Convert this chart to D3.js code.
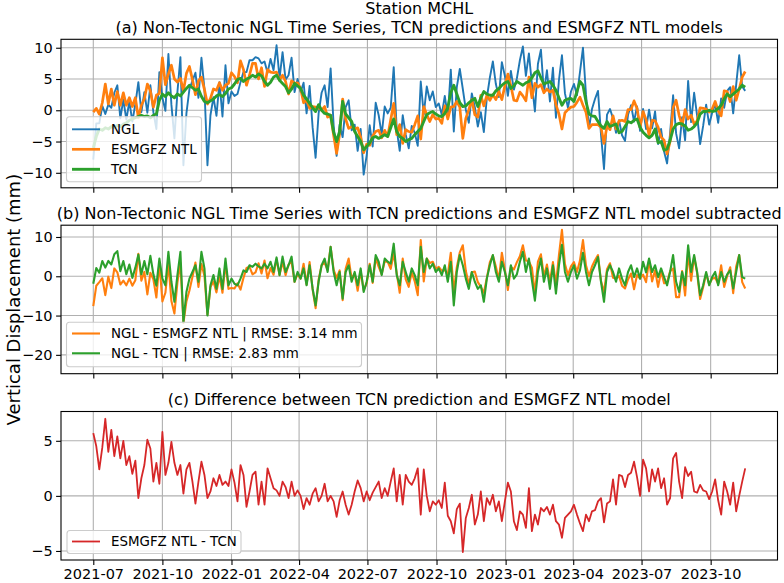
<!DOCTYPE html>
<html><head><meta charset="utf-8">
<script src="https://cdn.jsdelivr.net/npm/d3@7"></script>
<style>
body{margin:0;background:#fff}
svg{display:block}
text{font-family:"DejaVu Sans",sans-serif;fill:#000}
</style>
</head><body>
<svg id="chart" width="784" height="583"></svg>
<script>
// ---- data (sampled every 4 days from 2021-07-01) ----
const startDate = "2021-07-01";
const stepDays = 4;

// TCN prediction (mm)
const tcn = [
-6.0,-4.2,-3.0,-3.2,-2.8,-3.0,-2.6,-2.8,-2.4,-2.6,
-2.2,-2.0,-1.6,-1.4,-1.2,-1.0,-0.8,-1.0,-0.9,-1.2,
-0.8,-0.6,1.6,2.6,2.2,2.8,2.3,2.0,2.6,2.3,
2.9,3.5,4.0,3.6,3.2,3.4,2.2,1.4,1.2,1.5,
1.8,2.3,2.5,2.2,2.7,3.4,3.6,4.2,4.9,5.1,
4.6,5.0,5.2,5.6,5.3,5.8,5.5,4.6,4.0,4.5,
5.3,5.6,4.8,4.3,3.8,2.8,3.4,4.3,3.9,3.5,
2.4,1.8,1.1,0.4,-0.2,0.9,0.0,-0.5,-0.6,-0.8,
-3.5,-5.0,-3.4,1.4,-0.6,-1.2,-1.8,-3.4,-4.2,-5.0,
-6.3,-5.8,-5.2,-4.4,-4.2,-4.5,-4.2,-3.9,-4.2,-2.8,
-1.4,-3.4,-4.2,-4.5,-5.0,-4.7,-4.5,-3.9,-3.4,-2.9,
-1.8,-0.7,-0.4,-0.2,-0.6,-0.9,-1.0,-0.5,0.4,2.8,
4.0,2.6,1.2,0.6,0.7,1.2,1.6,1.9,0.6,2.0,
3.0,2.6,2.4,2.4,3.1,3.5,4.0,4.4,4.6,3.5,
3.9,4.6,4.3,4.0,4.4,4.6,5.2,6.0,6.3,5.2,
4.2,4.4,4.6,4.0,3.2,2.0,0.8,1.6,1.8,1.9,
1.4,3.0,4.6,4.0,1.4,-0.6,-0.9,-1.0,-1.8,-2.5,
-2.9,-1.8,-2.6,-2.4,-2.2,-3.6,-3.4,-2.6,-1.8,-2.0,
-1.6,-1.4,-2.7,-3.5,-4.0,-4.4,-4.0,-3.0,-5.2,-5.0,
-6.4,-6.2,-4.8,-3.0,-2.3,-2.1,-2.2,-2.5,-3.2,-3.0,
-2.6,-2.0,-0.6,-0.2,-0.2,0.0,-0.2,-0.1,0.3,0.8,
1.8,2.6,2.2,2.6,3.0,3.4,4.0,3.7
];

// NGL - TCN residual (mm) (b) green
const nglMinusTcn = [
-1.9,2.1,0.9,3.9,2.2,3.9,3.0,5.6,6.4,1.3,
3.9,0.5,3.0,-0.4,2.2,5.5,0.5,3.9,0.5,5.2,
0.5,-2.4,4.5,-0.6,-2.3,6.2,-1.4,-6.5,0.3,6.2,
-11.7,-4.0,-0.6,1.1,2.8,-1.4,6.2,2.0,-10.0,-2.3,
0.3,-3.2,2.0,-3.2,4.5,-2.3,-0.6,-1.9,-2.3,-0.6,
1.5,1.1,2.8,2.4,3.2,2.5,2.0,3.2,2.0,3.7,
1.1,4.8,0.3,5.0,1.1,2.8,5.0,-1.4,1.1,-0.6,
2.0,-2.3,2.8,-3.1,-7.4,-1.4,2.8,4.5,1.1,7.5,
1.1,-2.3,1.1,-5.7,1.1,2.8,-1.4,1.1,-2.3,2.0,
-4.0,-1.4,2.8,-1.4,5.4,3.7,0.3,4.5,3.7,3.2,
8.3,0.3,-2.3,3.7,1.1,-1.4,2.0,0.3,-2.3,7.5,
1.1,4.5,2.0,3.2,1.1,2.0,0.3,2.8,-1.4,3.7,
-7.4,1.1,5.4,2.8,-0.6,-3.2,1.1,-1.4,-3.2,-2.3,
-6.5,-0.6,2.8,5.4,1.1,-1.4,3.7,1.1,-2.3,2.8,
-0.6,0.5,3.7,6.2,1.1,4.5,-1.0,-6.2,1.1,4.5,
-1.4,2.0,-3.2,2.8,-4.4,2.8,8.0,1.1,-1.4,1.1,
2.8,-0.6,1.5,6.0,1.1,-2.3,1.1,2.8,4.9,-1.4,
-6.5,1.1,2.8,1.1,-1.4,2.0,-0.6,-2.3,1.1,2.8,
-0.2,2.0,-0.6,3.7,1.0,4.5,1.1,2.8,-0.2,2.0,
-0.2,-2.3,1.1,5.4,-1.4,-4.0,1.1,-2.3,7.9,1.1,
5.4,1.1,-4.8,-2.3,1.1,-2.3,-0.2,1.1,-2.3,1.1,
-1.4,0.5,1.5,-3.1,1.1,5.4,-0.2,-0.6
];

// ESMGFZ NTL - TCN difference (mm)
const esmgfzMinusTcn = [
5.7,4.5,2.4,4.4,7.0,4.0,6.0,3.6,5.4,3.4,
5.0,2.8,3.6,2.0,3.2,-0.2,1.6,2.8,5.1,4.3,
1.3,3.0,1.1,5.8,1.9,3.0,4.9,3.0,1.9,2.8,
0.2,2.4,3.0,1.3,-0.7,1.3,3.1,1.9,-0.2,0.4,
1.6,0.9,1.9,1.0,1.3,0.9,2.4,1.2,-0.5,2.8,
1.9,-1.0,0.4,1.9,2.2,-0.8,1.3,-0.8,2.5,1.6,
0.7,0.5,0.0,1.3,0.8,-0.2,1.3,0.0,0.5,0.0,
-1.2,-0.2,-0.8,0.2,0.7,-0.5,0.0,1.1,-0.5,0.0,
-0.5,-1.9,-0.4,0.4,-0.8,-1.7,-0.8,0.4,1.4,0.7,
-0.5,0.4,-0.4,0.3,0.8,1.3,-0.2,0.7,0.0,1.3,
2.5,-0.5,1.9,-0.8,1.9,1.3,1.0,1.6,2.5,-1.7,
2.4,0.0,-1.4,-0.5,-0.8,-0.4,-1.1,1.2,-1.8,-2.3,
-3.4,-1.2,-0.7,-5.1,-2.0,-1.1,0.1,-2.6,-1.7,0.4,
-2.3,-0.2,-0.8,0.1,-1.4,-0.5,-2.3,-0.5,1.2,0.4,
-2.3,-3.1,-1.4,-1.7,-2.9,0.7,-3.2,-1.7,-2.6,-1.1,
-1.4,-1.0,-1.7,-0.8,-2.3,-2.6,-3.8,-2.0,-1.7,-1.4,
-0.8,-1.7,-2.5,-3.2,-1.7,-2.3,-1.4,-1.3,-0.5,-0.2,
-2.4,-0.7,-0.5,1.5,-0.8,1.9,1.8,0.8,1.9,2.1,
3.1,1.7,0.0,3.3,2.5,0.4,2.4,1.3,2.5,0.7,
1.6,-0.8,-0.2,3.4,3.9,1.3,-0.2,2.6,1.8,2.2,
0.4,0.3,1.0,0.5,0.4,-0.3,0.4,1.5,-0.4,-1.7,
1.3,0.4,-0.8,1.2,-1.4,0.0,1.3,2.5
];

const xTickLabels = ["2021-07","2021-10","2022-01","2022-04","2022-07","2022-10","2023-01","2023-04","2023-07","2023-10"];
const yTicksA = [-10,-5,0,5,10];
const yTicksB = [-20,-10,0,10];
const yTicksC = [-5,0,5];

const rmseEsm = "3.14";
const rmseTcn = "2.83";

// ---- derived series ----
const t0 = d3.utcParse("%Y-%m-%d")(startDate);
const dates = tcn.map((_, i) => d3.utcDay.offset(t0, i * stepDays));
const esmgfz = tcn.map((v, i) => v + esmgfzMinusTcn[i]);
const ngl = tcn.map((v, i) => v + nglMinusTcn[i]);
const bEsm = ngl.map((v, i) => v - esmgfz[i]);
const bTcn = ngl.map((v, i) => v - tcn[i]);
const cDiff = esmgfz.map((v, i) => v - tcn[i]);

// ---- layout ----
const C = {blue:"#1f77b4", orange:"#ff7f0e", green:"#2ca02c", red:"#d62728"};
const L = 61, R = 777.5, H = 148.5;
const TITLE_FS = 16, TICK_FS = 14.5, LEG_FS = 13.4;
const svg = d3.select("#chart");
const parse = d3.utcParse("%Y-%m");
const x = d3.scaleUtc()
  .domain([d3.utcDay.offset(t0, -42.4), d3.utcDay.offset(t0, 911.4)])
  .range([L, R]);
const xTicks = xTickLabels.map(s => parse(s));

const panels = [
  {top:39.3, domain:[-12.4, 11.35], ticks:yTicksA,
   title:"(a) Non-Tectonic NGL Time Series, TCN predictions and ESMGFZ NTL models",
   series:[{v:ngl,c:C.blue,w:1.9,label:"NGL"},{v:esmgfz,c:C.orange,w:2.7,label:"ESMGFZ NTL"},{v:tcn,c:C.green,w:2.9,label:"TCN"}],
   legend:{x:66.5,y:116.7,w:135,h:65,rows:[129.3,149.3,169.3]}},
  {top:225.2, domain:[-24.8, 13.0], ticks:yTicksB,
   title:"(b) Non-Tectonic NGL Time Series with TCN predictions and ESMGFZ NTL model subtracted",
   series:[{v:bEsm,c:C.orange,w:2.1,label:"NGL - ESMGFZ NTL | RMSE: " + rmseEsm + " mm"},{v:bTcn,c:C.green,w:2.1,label:"NGL - TCN | RMSE: " + rmseTcn + " mm"}],
   legend:{x:66.5,y:322.3,w:295,h:44.5,rows:[333.5,353.3]}},
  {top:411.5, domain:[-5.82, 7.66], ticks:yTicksC,
   title:"(c) Difference between TCN prediction and ESMGFZ NTL model",
   series:[{v:cDiff,c:C.red,w:1.8,label:"ESMGFZ NTL - TCN"}],
   legend:{x:67,y:530.5,w:174,h:23,rows:[541.5]}}
];

const fmt = d => (d < 0 ? "\u2212" + Math.abs(d) : String(d));

svg.append("text").attr("x", (L + R) / 2).attr("y", 14)
  .attr("text-anchor", "middle").attr("font-size", TITLE_FS).text("Station MCHL");

svg.append("text")
  .attr("transform", `translate(19.5,${(39.3 + 411.5 + H) / 2}) rotate(-90)`)
  .attr("text-anchor", "middle").attr("font-size", 18)
  .text("Vertical Displacement (mm)");

panels.forEach((p, k) => {
  const top = p.top, bot = top + H;
  const y = d3.scaleLinear().domain(p.domain).range([bot, top]);
  const g = svg.append("g");
  const clipId = "clip" + k;
  svg.append("clipPath").attr("id", clipId).append("rect")
    .attr("x", L).attr("y", top).attr("width", R - L).attr("height", H);

  // grid
  g.append("g").selectAll("line").data(xTicks).join("line")
    .attr("x1", d => x(d)).attr("x2", d => x(d)).attr("y1", top).attr("y2", bot)
    .attr("stroke", "#b0b0b0").attr("stroke-width", 1.1);
  g.append("g").selectAll("line").data(p.ticks).join("line")
    .attr("x1", L).attr("x2", R).attr("y1", d => y(d)).attr("y2", d => y(d))
    .attr("stroke", "#b0b0b0").attr("stroke-width", 1.1);

  // lines
  const line = d3.line().x((d, i) => x(dates[i])).y(d => y(d));
  const lg = g.append("g").attr("clip-path", `url(#${clipId})`);
  p.series.forEach(s => {
    lg.append("path").datum(s.v).attr("d", line).attr("fill", "none")
      .attr("stroke", s.c).attr("stroke-width", s.w).attr("stroke-linejoin", "round");
  });

  // axes
  const yAxis = d3.axisLeft(y).tickValues(p.ticks).tickFormat(fmt).tickSize(4.9).tickPadding(3.5);
  const ya = g.append("g").attr("transform", `translate(${L},0)`).call(yAxis);
  const xAxis = d3.axisBottom(x).tickValues(xTicks).tickSize(4.9).tickPadding(3.5)
    .tickFormat(k === 2 ? d3.utcFormat("%Y-%m") : () => "");
  const xa = g.append("g").attr("transform", `translate(0,${bot})`).call(xAxis);
  [ya, xa].forEach(a => {
    a.select(".domain").remove();
    a.selectAll(".tick line").attr("stroke", "#000").attr("stroke-width", 1.1);
    a.selectAll(".tick text").attr("font-size", TICK_FS).attr("font-family", "DejaVu Sans").attr("fill", "#000");
  });
  g.append("rect").attr("x", L).attr("y", top).attr("width", R - L).attr("height", H)
    .attr("fill", "none").attr("stroke", "#000").attr("stroke-width", 1.1);

  // title
  svg.append("text").attr("x", (L + R) / 2).attr("y", top - 6.5)
    .attr("text-anchor", "middle").attr("font-size", TITLE_FS).text(p.title);

  // legend
  const lgd = p.legend;
  const leg = svg.append("g");
  leg.append("rect").attr("x", lgd.x).attr("y", lgd.y).attr("width", lgd.w).attr("height", lgd.h)
    .attr("rx", 3).attr("fill", "#fff").attr("fill-opacity", 0.8)
    .attr("stroke", "#cccccc").attr("stroke-width", 1.1);
  p.series.forEach((s, j) => {
    const ry = lgd.rows[j];
    leg.append("line").attr("x1", 72).attr("x2", 100).attr("y1", ry).attr("y2", ry)
      .attr("stroke", s.c).attr("stroke-width", s.w);
    leg.append("text").attr("x", 111).attr("y", ry).attr("dy", "0.36em")
      .attr("font-size", LEG_FS).text(s.label);
  });
});
</script>
</body></html>
